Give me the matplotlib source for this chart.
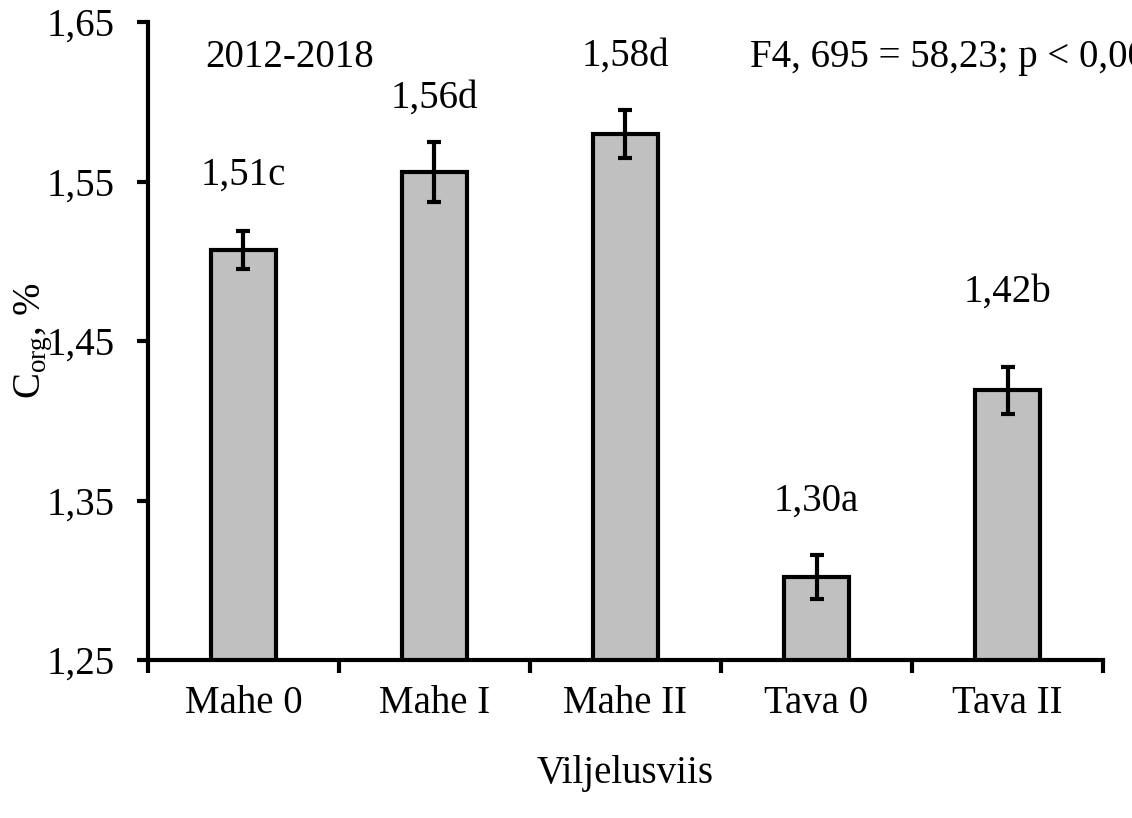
import matplotlib.pyplot as plt
import numpy as np

plt.rcParams['font.family'] = ['Liberation Serif', 'DejaVu Serif']
plt.rcParams['mathtext.fontset'] = 'custom'
plt.rcParams['mathtext.rm'] = 'Liberation Serif'

# Data
categories = ["Mahe 0", "Mahe I", "Mahe II", "Tava 0", "Tava II"]
means = [1.507, 1.556, 1.580, 1.302, 1.419]
errors = [0.012, 0.019, 0.015, 0.014, 0.015]
labels = ["1,51c", "1,56d", "1,58d", "1,30a", "1,42b"]
label_y = [1.554, 1.6025, 1.6285, 1.3495, 1.4805]
yticks = [1.25, 1.35, 1.45, 1.55, 1.65]
ytick_labels = ["1,25", "1,35", "1,45", "1,55", "1,65"]

fig = plt.figure(figsize=(11.32, 8.18), dpi=100)
ax = fig.add_axes([0.1307, 0.1931, 0.8437, 0.78])

x = np.arange(len(categories))
ax.bar(x, means, width=0.34, color="#c0c0c0", edgecolor="black", linewidth=3)
ax.errorbar(x, means, yerr=errors, fmt="none", ecolor="black",
            elinewidth=3, capsize=5, capthick=3)

for xi, ly, t in zip(x, label_y, labels):
    ax.text(xi, ly, t, ha="center", va="center", fontsize=28)

# header texts (the statistics line runs off the right edge as in the source)
ax.text(0.24, 1.6275, "2012-2018", ha="center", va="center", fontsize=28)
ax.text(2.65, 1.6275, "F4, 695 = 58,23; p < 0,001", ha="left", va="center",
        fontsize=28, clip_on=False)

ax.set_xlim(-0.5, len(categories) - 0.5)
ax.set_ylim(1.25, 1.65)
ax.set_yticks(yticks)
ax.set_yticklabels(ytick_labels)

ax.set_xticks(np.arange(len(categories) + 1) - 0.5)
ax.set_xticklabels([])
ax.set_xticks(x, minor=True)
ax.set_xticklabels(categories, minor=True)

ax.spines["top"].set_visible(False)
ax.spines["right"].set_visible(False)
ax.spines["left"].set_linewidth(3)
ax.spines["bottom"].set_linewidth(3)

ax.tick_params(axis="y", which="major", direction="out", length=8, width=3,
               labelsize=28, pad=16)
ax.tick_params(axis="x", which="major", direction="out", length=9, width=3)
ax.tick_params(axis="x", which="minor", length=0, labelsize=28, pad=18)

ax.set_xlabel("Viljelusviis", fontsize=28, labelpad=24)
ax.set_ylabel(r"C$_{\mathregular{org}}$, %", fontsize=28)
ax.yaxis.set_label_coords(-0.098, 0.5)

fig.savefig("out.png", dpi=100)
plt.close(fig)
